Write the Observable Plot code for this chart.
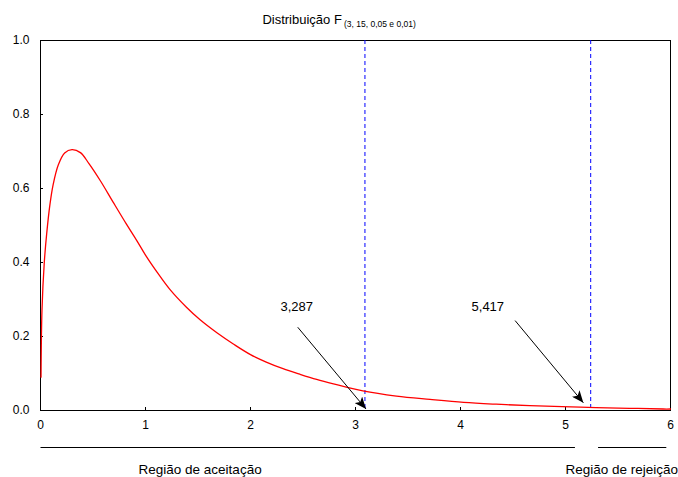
<!DOCTYPE html>
<html>
<head>
<meta charset="utf-8">
<script src="https://cdn.jsdelivr.net/npm/d3@7"></script>
<script src="https://cdn.jsdelivr.net/npm/@observablehq/plot@0.6"></script>
<style>
  html, body { margin: 0; padding: 0; background: #fff; }
  svg { display: block; }
</style>
</head>
<body>
<div id="chart"></div>
<script>
// ---- data ----
const curveX = [0.005, 0.014, 0.036, 0.059, 0.09, 0.12, 0.17, 0.23, 0.30, 0.38, 0.46, 0.57, 0.69, 0.82, 0.92, 1.0, 1.11, 1.23, 1.39, 1.52, 1.68, 1.84, 2.0, 2.15, 2.31, 2.47, 2.63, 2.79, 3.07, 3.39, 3.71, 4.03, 4.34, 4.66, 5.14, 5.61, 5.93, 6.0];
const curveY = [0.09, 0.27, 0.40, 0.478, 0.557, 0.61, 0.664, 0.696, 0.705, 0.697, 0.668, 0.621, 0.564, 0.503, 0.458, 0.42, 0.374, 0.328, 0.279, 0.245, 0.21, 0.179, 0.151, 0.131, 0.113, 0.098, 0.084, 0.072, 0.053, 0.039, 0.03, 0.022, 0.017, 0.013, 0.009, 0.006, 0.004, 0.004];

const criticalLineX = [3.09, 5.24];
const criticalLabels = ["3,287", "5,417"];
const labelX = [2.44, 4.26];
const labelY = [0.279, 0.279];
const arrowX1 = [2.45, 4.52];
const arrowY1 = [0.225, 0.243];
const arrowX2 = [3.10, 5.17];
const arrowY2 = [0.004, 0.021];

const regionLabels = ["Região de aceitação", "Região de rejeição"];
const regionLabelX = [1.52, 5.535];
const regionLineX1 = [0, 5.31];
const regionLineX2 = [5.09, 5.96];

const xTicks = [0, 1, 2, 3, 4, 5, 6];
const yTicks = [0, 0.2, 0.4, 0.6, 0.8, 1.0];

const titleMain = "Distribuição F";
const titleSub = "(3, 15, 0,05 e 0,01)";
const titleMainX = 2.87;
const titleSubX = 2.89;

// ---- tables built from arrays ----
const curve = curveX.map((x, i) => ({x, y: curveY[i]}));
const labels = criticalLabels.map((t, i) => ({t, x: labelX[i], y: labelY[i]}));
const arrows = arrowX1.map((x1, i) => ({x1, y1: arrowY1[i], x2: arrowX2[i], y2: arrowY2[i]}));
const regions = regionLabels.map((t, i) => ({t, x: regionLabelX[i], x1: regionLineX1[i], x2: regionLineX2[i]}));

function filledArrow(color) {
  const ns = "http://www.w3.org/2000/svg";
  const m = document.createElementNS(ns, "marker");
  m.setAttribute("viewBox", "-12 -5 12 10");
  m.setAttribute("markerWidth", "12");
  m.setAttribute("markerHeight", "10");
  m.setAttribute("markerUnits", "userSpaceOnUse");
  m.setAttribute("refX", "0");
  m.setAttribute("refY", "0");
  m.setAttribute("orient", "auto");
  const p = document.createElementNS(ns, "path");
  p.setAttribute("d", "M-12,-5L0,0L-12,5L-9,0Z");
  p.setAttribute("fill", "#000");
  p.setAttribute("stroke", "none");
  m.appendChild(p);
  return m;
}

function build(useMarker) {
  const arrowMarks = useMarker
    ? [Plot.link(arrows, {x1: "x1", y1: "y1", x2: "x2", y2: "y2", stroke: "#000", strokeWidth: 1, markerEnd: filledArrow})]
    : [Plot.arrow(arrows, {x1: "x1", y1: "y1", x2: "x2", y2: "y2", stroke: "#000", strokeWidth: 1.5, headLength: 11, headAngle: 45})];
  return Plot.plot({
    width: 678,
    height: 477,
    marginLeft: 40,
    marginRight: 8,
    marginTop: 40,
    marginBottom: 67,
    style: {fontFamily: "'Liberation Sans', Arial, sans-serif", fontSize: "12px", color: "#000", background: "#fff", overflow: "visible"},
    x: {domain: [0, 6]},
    y: {domain: [0, 1]},
    marks: [
      Plot.frame({stroke: "#000", strokeWidth: 1}),
      Plot.axisY({ticks: yTicks, tickFormat: d3.format(".1f"), tickSize: 3, dx: 3, tickPadding: 11, label: null, fontSize: 12}),
      Plot.axisX({ticks: xTicks, tickFormat: d3.format("d"), tickSize: 3, dy: -3, tickPadding: 10, label: null, fontSize: 12}),
      Plot.ruleX(criticalLineX, {stroke: "#0000ff", strokeWidth: 1, strokeDasharray: "4,3"}),
      Plot.line(curve, {x: "x", y: "y", stroke: "#ff0000", strokeWidth: 1.3, curve: "catmull-rom"}),
      ...arrowMarks,
      Plot.text(labels, {x: "x", y: "y", text: "t", fontSize: 13, fill: "#000"}),
      Plot.link(regions, {x1: "x1", x2: "x2", y1: () => 0, y2: () => 0, dy: 37, stroke: "#000", strokeWidth: 1}),
      Plot.text(regions, {x: "x", y: () => 0, text: "t", dy: 59, fontSize: 13.5, fill: "#000"}),
      Plot.text([titleMain], {x: () => titleMainX, y: () => 1, text: d => d, dy: -21, textAnchor: "end", fontSize: 13, fill: "#000"}),
      Plot.text([titleSub], {x: () => titleSubX, y: () => 1, text: d => d, dy: -16, textAnchor: "start", fontSize: 8.5, fill: "#000"})
    ]
  });
}

let chart;
try {
  chart = build(true);
} catch (e) {
  chart = build(false);
}
document.getElementById("chart").appendChild(chart);
</script>
</body>
</html>
